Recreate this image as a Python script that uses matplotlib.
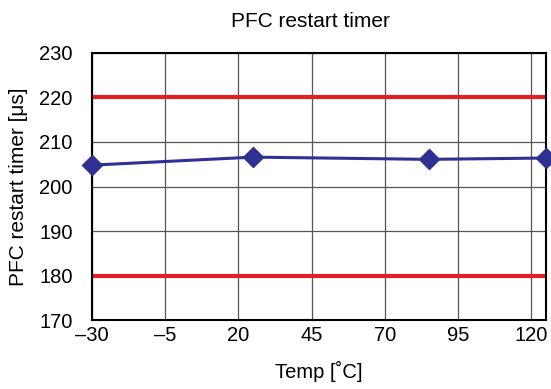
import matplotlib
matplotlib.use("Agg")
import matplotlib.pyplot as plt

plt.rcParams['font.family'] = ['Liberation Sans', 'DejaVu Sans']

# datos
temp = [-30, 25, 85, 125]
timer = [204.8, 206.6, 206.1, 206.4]
limite_sup = 220
limite_inf = 180
xticks = [-30, -5, 20, 45, 70, 95, 120]
xlabels = ['\u201330', '\u20135', '20', '45', '70', '95', '120']
yticks = [170, 180, 190, 200, 210, 220, 230]

fig = plt.figure(figsize=(5.51, 3.89), dpi=100)
ax = fig.add_axes([0.167, 0.177, 0.824, 0.687])

ax.grid(True, color='#555555', linewidth=0.9)
ax.set_axisbelow(True)

ax.axhline(limite_sup, color='#e31e25', linewidth=3)
ax.axhline(limite_inf, color='#e31e25', linewidth=3)

ax.plot(temp, timer, color='#2e3192', linewidth=2.2, marker='D',
        markersize=10, clip_on=False, zorder=5)

ax.set_xlim(-30, 125)
ax.set_ylim(170, 230)
ax.set_xticks(xticks)
ax.set_xticklabels(xlabels)
ax.set_yticks(yticks)
ax.tick_params(length=0, labelsize=14.5)
ax.tick_params(axis='x', pad=4)
ax.tick_params(axis='y', pad=14)
for s in ax.spines.values():
    s.set_linewidth(1.5)

ax.set_title('PFC restart timer', fontsize=15, pad=19, x=0.48)
ax.set_xlabel('Temp [\u02daC]', fontsize=14.5, labelpad=12)
ax.set_ylabel('PFC restart timer [\u03bcs]', fontsize=15, labelpad=8)

fig.savefig('out.png', dpi=100)
